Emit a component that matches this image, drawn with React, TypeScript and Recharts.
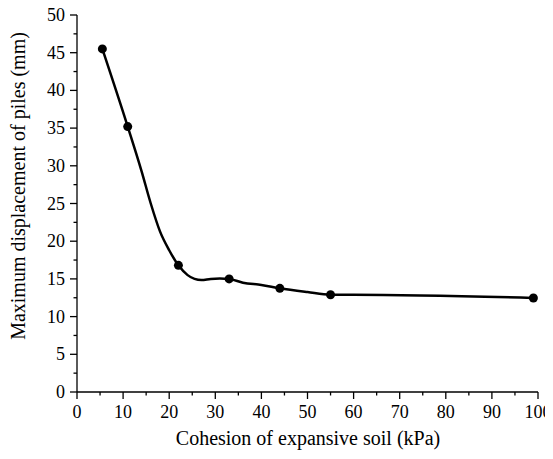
import { ComposedChart, Line, XAxis, YAxis, Label } from "recharts";

// smooth curve through the simulated values
const curveX = [5.5, 11, 14, 16, 18, 20, 22, 24, 25.5, 27, 29, 31, 33, 36, 40, 44, 50, 55, 60, 99];
const curveY = [45.5, 35.2, 29.3, 25.0, 21.3, 18.8, 16.8, 15.5, 15.0, 14.85, 15.0, 15.05, 15.0, 14.5, 14.2, 13.75, 13.25, 12.9, 12.9, 12.47];

// calculated points shown as markers
const markerX = [5.5, 11, 22, 33, 44, 55, 99];
const markerY = [45.5, 35.2, 16.8, 15.0, 13.75, 12.9, 12.47];

const xTicks = [0, 5, 10, 15, 20, 25, 30, 35, 40, 45, 50, 55, 60, 65, 70, 75, 80, 85, 90, 95, 100];
const yTicks = [0, 2.5, 5, 7.5, 10, 12.5, 15, 17.5, 20, 22.5, 25, 27.5, 30, 32.5, 35, 37.5, 40, 42.5, 45, 47.5, 50];

const curve = curveX.map((x, i) => ({ x, y: curveY[i] }));
const markers = markerX.map((x, i) => ({ x, y: markerY[i] }));

const FONT = "Liberation Serif";

function XTick(props: any) {
  const { x, y, payload } = props;
  const major = payload.value % 10 === 0;
  return (
    <g>
      <line x1={x} x2={x} y1={y} y2={y + (major ? 7 : 3.5)} stroke="#000" strokeWidth={1.3} />
      {major && (
        <text x={x} y={y + 26} textAnchor="middle" fontFamily={FONT} fontSize={18} fill="#000">
          {payload.value}
        </text>
      )}
    </g>
  );
}

function YTick(props: any) {
  const { x, y, payload } = props;
  const major = payload.value % 5 === 0;
  return (
    <g>
      <line x1={x} x2={x - (major ? 7 : 3.5)} y1={y} y2={y} stroke="#000" strokeWidth={1.3} />
      {major && (
        <text x={x - 12} y={y + 6} textAnchor="end" fontFamily={FONT} fontSize={18} fill="#000">
          {payload.value}
        </text>
      )}
    </g>
  );
}

export default function App() {
  return (
    <div style={{ margin: "-8px 0 0 -8px" }}>
      <ComposedChart width={553} height={459} margin={{ top: 15, right: 15, left: 0, bottom: 0 }}>
        <XAxis
          type="number"
          dataKey="x"
          domain={[0, 100]}
          ticks={xTicks}
          interval={0}
          tickSize={0}
          tickMargin={0}
          tickLine={false}
          tick={<XTick />}
          height={67}
          axisLine={{ stroke: "#000", strokeWidth: 1.3 }}
        >
          <Label
            content={() => (
              <text x={308} y={445} textAnchor="middle" fontFamily={FONT} fontSize={20} fill="#000">
                Cohesion of expansive soil (kPa)
              </text>
            )}
          />
        </XAxis>
        <YAxis
          type="number"
          domain={[0, 50]}
          ticks={yTicks}
          interval={0}
          tickSize={0}
          tickMargin={0}
          tickLine={false}
          tick={<YTick />}
          width={77}
          axisLine={{ stroke: "#000", strokeWidth: 1.3 }}
        >
          <Label
            content={() => (
              <text
                x={25}
                y={186}
                transform="rotate(-90 25 186)"
                textAnchor="middle"
                fontFamily={FONT}
                fontSize={20}
                fill="#000"
              >
                Maximum displacement of piles (mm)
              </text>
            )}
          />
        </YAxis>
        <Line
          data={curve}
          dataKey="y"
          type="monotone"
          stroke="#000"
          strokeWidth={2.5}
          dot={false}
          activeDot={false}
          isAnimationActive={false}
        />
        <Line
          data={markers}
          dataKey="y"
          stroke="none"
          dot={{ r: 4.5, fill: "#000", stroke: "#000", strokeWidth: 0 }}
          activeDot={false}
          isAnimationActive={false}
        />
      </ComposedChart>
    </div>
  );
}
